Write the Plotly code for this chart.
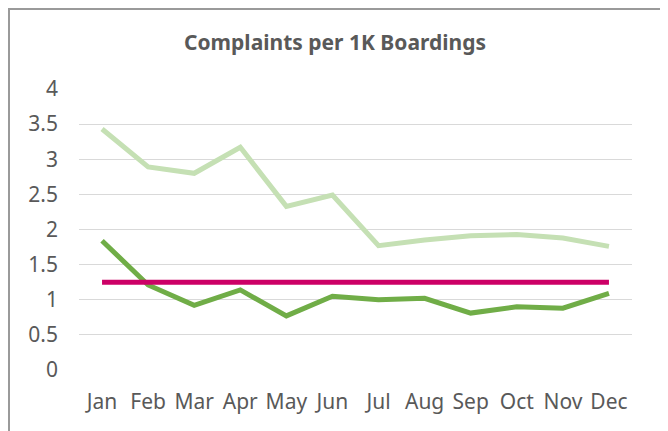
import plotly.graph_objects as go

months = ["Jan", "Feb", "Mar", "Apr", "May", "Jun", "Jul", "Aug", "Sep", "Oct", "Nov", "Dec"]
prior_year = [3.43, 2.89, 2.80, 3.17, 2.33, 2.49, 1.77, 1.85, 1.91, 1.93, 1.88, 1.76]
current_year = [1.84, 1.21, 0.92, 1.14, 0.77, 1.05, 1.00, 1.02, 0.81, 0.90, 0.88, 1.09]
target = [1.25] * 12
y_ticks = [0, 0.5, 1, 1.5, 2, 2.5, 3, 3.5, 4]
y_tick_labels = ["0", "0.5", "1", "1.5", "2", "2.5", "3", "3.5", "4"]

FONT = "Noto Sans"
TXT = "#595959"

# page body has an 8px margin, so the figure is 660x423 placed at (8, 8)
W, H = 660, 423
L, R, T, B = 71, 36, 81, 61
PW, PH = W - L - R, H - T - B

fig = go.Figure()
fig.add_trace(go.Scatter(x=months, y=prior_year, mode="lines",
                         line=dict(color="#C5E0B4", width=5), showlegend=False))
fig.add_trace(go.Scatter(x=months, y=current_year, mode="lines",
                         line=dict(color="#70AD47", width=5), showlegend=False))
fig.add_trace(go.Scatter(x=months, y=target, mode="lines",
                         line=dict(color="#CC0066", width=5), showlegend=False))

fig.update_layout(
    width=W, height=H,
    margin=dict(l=L, r=R, t=T, b=B),
    paper_bgcolor="white", plot_bgcolor="white",
    font=dict(family=FONT, color=TXT, size=21),
    title=dict(text="<b>Complaints per 1K Boardings</b>", xref="container",
               x=327 / W, xanchor="center",
               yref="container", y=1 - 35 / H, yanchor="middle",
               font=dict(family=FONT, size=21, color=TXT)),
    xaxis=dict(type="category", range=[-0.5, 11.5], showgrid=False, showline=False,
               zeroline=False, ticks="", ticklabelstandoff=17,
               tickfont=dict(family=FONT, size=21, color=TXT)),
    yaxis=dict(range=[0, 4], tickvals=y_ticks, ticktext=y_tick_labels,
               showgrid=True, gridcolor="#D9D9D9", gridwidth=1.3, zeroline=False,
               showline=False, ticks="", ticklabelstandoff=20,
               tickfont=dict(family=FONT, size=21, color=TXT)),
    shapes=[dict(type="rect", xref="paper", yref="paper",
                 x0=(1 - L) / PW, x1=(653 - L) / PW,
                 y0=-(B + 30) / PH, y1=(PH + T - 1) / PH,
                 line=dict(color="#9A9A9A", width=2), fillcolor="rgba(0,0,0,0)",
                 layer="below")],
)

fig.write_html("out.html")
